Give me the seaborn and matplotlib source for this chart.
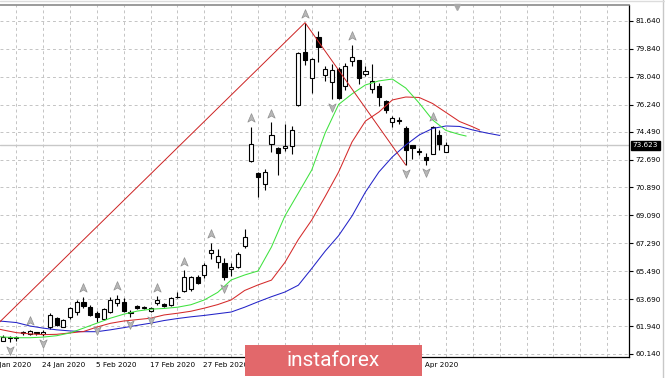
import numpy as np
import pandas as pd
import matplotlib
matplotlib.use("Agg")
import matplotlib.pyplot as plt
import seaborn as sns
from matplotlib.path import Path
from matplotlib.patches import Rectangle
from matplotlib.lines import Line2D
import matplotlib.transforms as mtransforms

# ---------------- data ----------------
bars = list(range(67))
opens = [61.01, 61.26, 61.26, 61.50, 61.43, 61.58, 61.43, 61.86, 62.45, 61.90,
         62.55, 62.87, 63.52, 63.16, 62.79, 62.38, 62.87, 63.45, 63.52, 62.82,
         63.24, 63.14, 62.94, 63.45, 63.37, 63.30, 63.82, 64.23, 64.32, 65.13,
         65.24, 66.64, 66.10, 66.00, 65.60, 65.76, 67.11, 72.60, 71.85, 71.12,
         73.70, 73.46, 73.42, 73.59, 76.22, 79.66, 77.94, 80.59, 78.15, 77.72,
         78.57, 77.44, 79.06, 79.12, 78.22, 77.23, 77.46, 76.47, 75.14, 75.22,
         74.75, 73.63, 73.23, 72.88, 73.05, 74.28, 73.20]
highs = [61.37, 61.27, 61.27, 61.63, 61.69, 61.59, 61.66, 62.77, 62.55, 62.38,
         63.16, 63.63, 63.82, 63.30, 62.92, 63.09, 63.84, 63.95, 63.74, 62.98,
         63.30, 63.24, 63.16, 63.88, 63.45, 63.80, 64.16, 65.56, 65.18, 65.24,
         66.03, 67.33, 66.90, 66.32, 66.02, 66.73, 68.18, 74.80, 71.89, 72.08,
         75.09, 73.50, 74.99, 74.86, 79.66, 81.53, 79.22, 81.01, 78.73, 78.86,
         78.65, 78.93, 80.09, 79.15, 78.70, 78.86, 77.62, 76.54, 75.51, 75.44,
         74.86, 73.63, 73.42, 73.10, 74.86, 74.60, 73.85]
lows = [60.98, 60.93, 60.98, 61.37, 61.37, 61.37, 61.32, 61.74, 61.95, 61.86,
        62.38, 62.66, 63.09, 62.61, 62.21, 62.34, 62.81, 63.24, 62.87, 62.55,
        63.03, 63.03, 62.85, 63.30, 63.16, 63.24, 63.74, 64.16, 64.23, 64.66,
        65.03, 66.25, 65.67, 64.92, 65.18, 65.69, 66.98, 72.54, 70.28, 70.73,
        73.15, 71.70, 73.25, 73.05, 76.15, 78.80, 76.97, 79.01, 77.78, 76.57,
        76.62, 77.18, 78.73, 77.57, 78.06, 76.97, 76.15, 75.68, 74.81, 74.96,
        72.34, 72.70, 72.99, 72.37, 73.02, 73.34, 73.18]
closes = [61.26, 61.15, 61.15, 61.53, 61.63, 61.52, 61.58, 62.66, 62.01, 62.34,
          63.09, 63.52, 63.24, 62.66, 62.53, 63.03, 63.63, 63.67, 62.94, 62.79,
          63.09, 63.17, 63.09, 63.63, 63.24, 63.74, 63.85, 65.09, 65.09, 64.70,
          65.89, 66.85, 66.47, 65.09, 65.76, 66.60, 67.69, 73.68, 71.55, 71.91,
          74.28, 73.14, 73.57, 74.60, 79.55, 79.12, 79.17, 79.94, 78.52, 78.48,
          76.64, 78.73, 79.33, 77.93, 78.41, 77.77, 76.71, 75.89, 75.36, 75.18,
          73.28, 73.41, 73.20, 72.66, 74.81, 73.70, 73.623]
last_price = 73.623

# Alligator lines (jaw / teeth / lips), read at bar positions
jaw_bar = [-1] + list(range(0, 75, 2))
jaw_val = [62.28, 62.25, 62.17, 61.95, 61.81, 61.70, 61.63, 61.58, 61.58, 61.70,
           61.84, 61.99, 62.13, 62.30, 62.43, 62.54, 62.63, 62.74, 62.85, 63.16,
           63.51, 63.84, 64.14, 64.58, 65.66, 66.78, 67.78, 69.05, 70.60, 71.89,
           72.86, 73.63, 74.28, 74.70, 74.86, 74.83, 74.60, 74.41, 74.25]
teeth_bar = [-1] + list(range(0, 71, 2)) + [71]
teeth_val = [61.79, 61.69, 61.52, 61.44, 61.39, 61.41, 61.50, 61.59, 61.88, 62.12,
             62.27, 62.36, 62.45, 62.66, 62.77, 62.90, 63.10, 63.33, 63.63, 64.24,
             64.60, 64.91, 66.05, 67.53, 68.79, 70.31, 71.89, 73.83, 75.18, 75.76,
             76.54, 76.73, 76.70, 76.31, 75.73, 75.15, 74.80, 74.60]
lips_bar = [-1] + list(range(0, 69, 2)) + [69]
lips_val = [61.27, 61.24, 61.19, 61.19, 61.23, 61.32, 61.50, 61.81, 62.13, 62.45,
            62.71, 62.91, 63.03, 63.08, 63.16, 63.32, 63.63, 64.12, 64.92, 65.24,
            65.50, 67.05, 69.05, 70.53, 72.02, 74.41, 76.25, 76.93, 77.51, 77.77,
            77.89, 77.31, 76.34, 75.25, 74.57, 74.31, 74.21]

# ZigZag vertices
zigzag_bar = [-4, 45, 60]
zigzag_val = [60.71, 81.53, 72.34]

# Fractals
fractal_up_bars = [4, 12, 17, 23, 27, 31, 37, 40, 45, 52, 64]
fractal_down_bars = [1, 6, 14, 19, 22, 33, 49, 60, 63]

price_ticks = [60.14, 61.94, 63.69, 65.49, 67.29, 69.09, 70.89, 72.69,
               74.49, 76.24, 78.04, 79.84, 81.64]
date_label_bars = [-2, 6, 14, 22, 30, 62]
date_labels = ["14 Jan 2020", "24 Jan 2020", "5 Feb 2020", "17 Feb 2020",
               "27 Feb 2020", "3 Apr 2020"]
chart_shift_bar = 67.6
banner_text = "instaforex"

# ---------------- drawing ----------------
sns.set_style("white")
plt.rcParams['font.family'] = ['DejaVu Sans']

W, H = 665, 378
fig = plt.figure(figsize=(W / 100, H / 100), dpi=100)
ax = fig.add_axes([0, 21 / H, 629 / W, 352 / H])
ax.set_xlim(-0.432, 93.25)
ax.set_ylim(59.946, 82.67)

# grid & ticks
ax.set_xticks(np.arange(2, 94, 4))
ax.set_xticklabels([])
ax.set_yticks(price_ticks)
ax.set_yticklabels([f"{t:.3f}" for t in price_ticks])
ax.yaxis.tick_right()
ax.tick_params(axis='y', direction='out', length=3, width=0.8, labelsize=5.2,
               pad=1.5, colors='black')
ax.tick_params(axis='x', direction='out', length=3, width=0.8, colors='black')
ax.grid(True, color='#c4c4c4', linestyle=(0, (3, 3)), linewidth=0.7, zorder=0)
ax.set_axisbelow(True)
for s in ['right', 'bottom']:
    ax.spines[s].set_color('black')
    ax.spines[s].set_linewidth(0.9)
ax.spines['left'].set_visible(False)
ax.spines['top'].set_color('#8a8a8a')
ax.spines['top'].set_linewidth(1.2)

# current price line
ax.axhline(last_price, color='#c8c8c8', lw=1.0, zorder=1)

# candles
o = np.array(opens); c = np.array(closes); hi = np.array(highs); lo = np.array(lows)
ax.vlines(bars, lo, hi, color='black', lw=0.8, zorder=3)
body_bottom = np.minimum(o, c)
body_h = np.abs(c - o)
fill = ['white' if cc >= oo else 'black' for oo, cc in zip(o, c)]
ax.bar(bars, body_h, bottom=body_bottom, width=0.62, color=fill,
       edgecolor='black', linewidth=0.8, zorder=4)

# alligator via seaborn
df = pd.concat([
    pd.DataFrame({'bar': jaw_bar, 'value': jaw_val, 'line': 'jaw'}),
    pd.DataFrame({'bar': teeth_bar, 'value': teeth_val, 'line': 'teeth'}),
    pd.DataFrame({'bar': lips_bar, 'value': lips_val, 'line': 'lips'}),
])
sns.lineplot(data=df, x='bar', y='value', hue='line',
             palette={'jaw': '#2323c8', 'teeth': '#d42a2a', 'lips': '#3ee23e'},
             estimator=None, sort=False, legend=False, lw=0.75, ax=ax, zorder=5)
ax.set_xlabel(''); ax.set_ylabel('')

# zigzag
ax.plot(zigzag_bar, zigzag_val, color='#cc2222', lw=0.7, zorder=5)

# fractal arrows
up_path = Path([(0, 1), (0.75, -0.75), (0, -0.3), (-0.75, -0.75), (0, 1)],
               [Path.MOVETO, Path.LINETO, Path.LINETO, Path.LINETO, Path.CLOSEPOLY])
down_path = Path([(0, -1), (0.75, 0.75), (0, 0.3), (-0.75, 0.75), (0, -1)],
                 [Path.MOVETO, Path.LINETO, Path.LINETO, Path.LINETO, Path.CLOSEPOLY])
ax.plot(fractal_up_bars, [highs[b] + 0.55 for b in fractal_up_bars], linestyle='none',
        marker=up_path, markersize=7, mfc='#b8b8b8', mec='#909090', mew=0.5, zorder=6)
ax.plot(fractal_down_bars, [lows[b] - 0.5 for b in fractal_down_bars], linestyle='none',
        marker=down_path, markersize=7, mfc='#b8b8b8', mec='#909090', mew=0.5, zorder=6)

# chart shift marker
bt = mtransforms.blended_transform_factory(ax.transData, ax.transAxes)
ax.plot([chart_shift_bar], [0.995], transform=bt, marker='v', markersize=4.5,
        color='#a8a8a8', clip_on=False, zorder=7)

# date labels
for b, lab in zip(date_label_bars, date_labels):
    ax.text(b - 0.15, -0.024, lab, transform=bt, ha='left', va='center',
            fontsize=5.2, color='black', clip_on=False)

# current price box
bt2 = mtransforms.blended_transform_factory(ax.transAxes, ax.transData)
ax.text(1.006, last_price, f"{last_price:.3f}", transform=bt2, ha='left', va='center',
        fontsize=5.2, color='white', clip_on=False, zorder=8,
        bbox=dict(boxstyle='square,pad=0.22', fc='black', ec='black'))

# window edges
fig.add_artist(Line2D([663 / W, 663 / W], [0, 1], color='#c8c8c8', lw=1.0))
fig.add_artist(Line2D([0, 1], [1 - 1 / H, 1 - 1 / H], color='#dcdcdc', lw=1.0))

# banner
fig.add_artist(Rectangle((245 / W, 2 / H), 177 / W, 31 / H, transform=fig.transFigure,
                         facecolor='#e2686b', edgecolor='none', zorder=10))
fig.text(333 / W, 17 / H, banner_text, ha='center', va='center', color='white',
         fontsize=15, family=['Roboto', 'DejaVu Sans'], zorder=11)

fig.savefig('out.png', dpi=100)
